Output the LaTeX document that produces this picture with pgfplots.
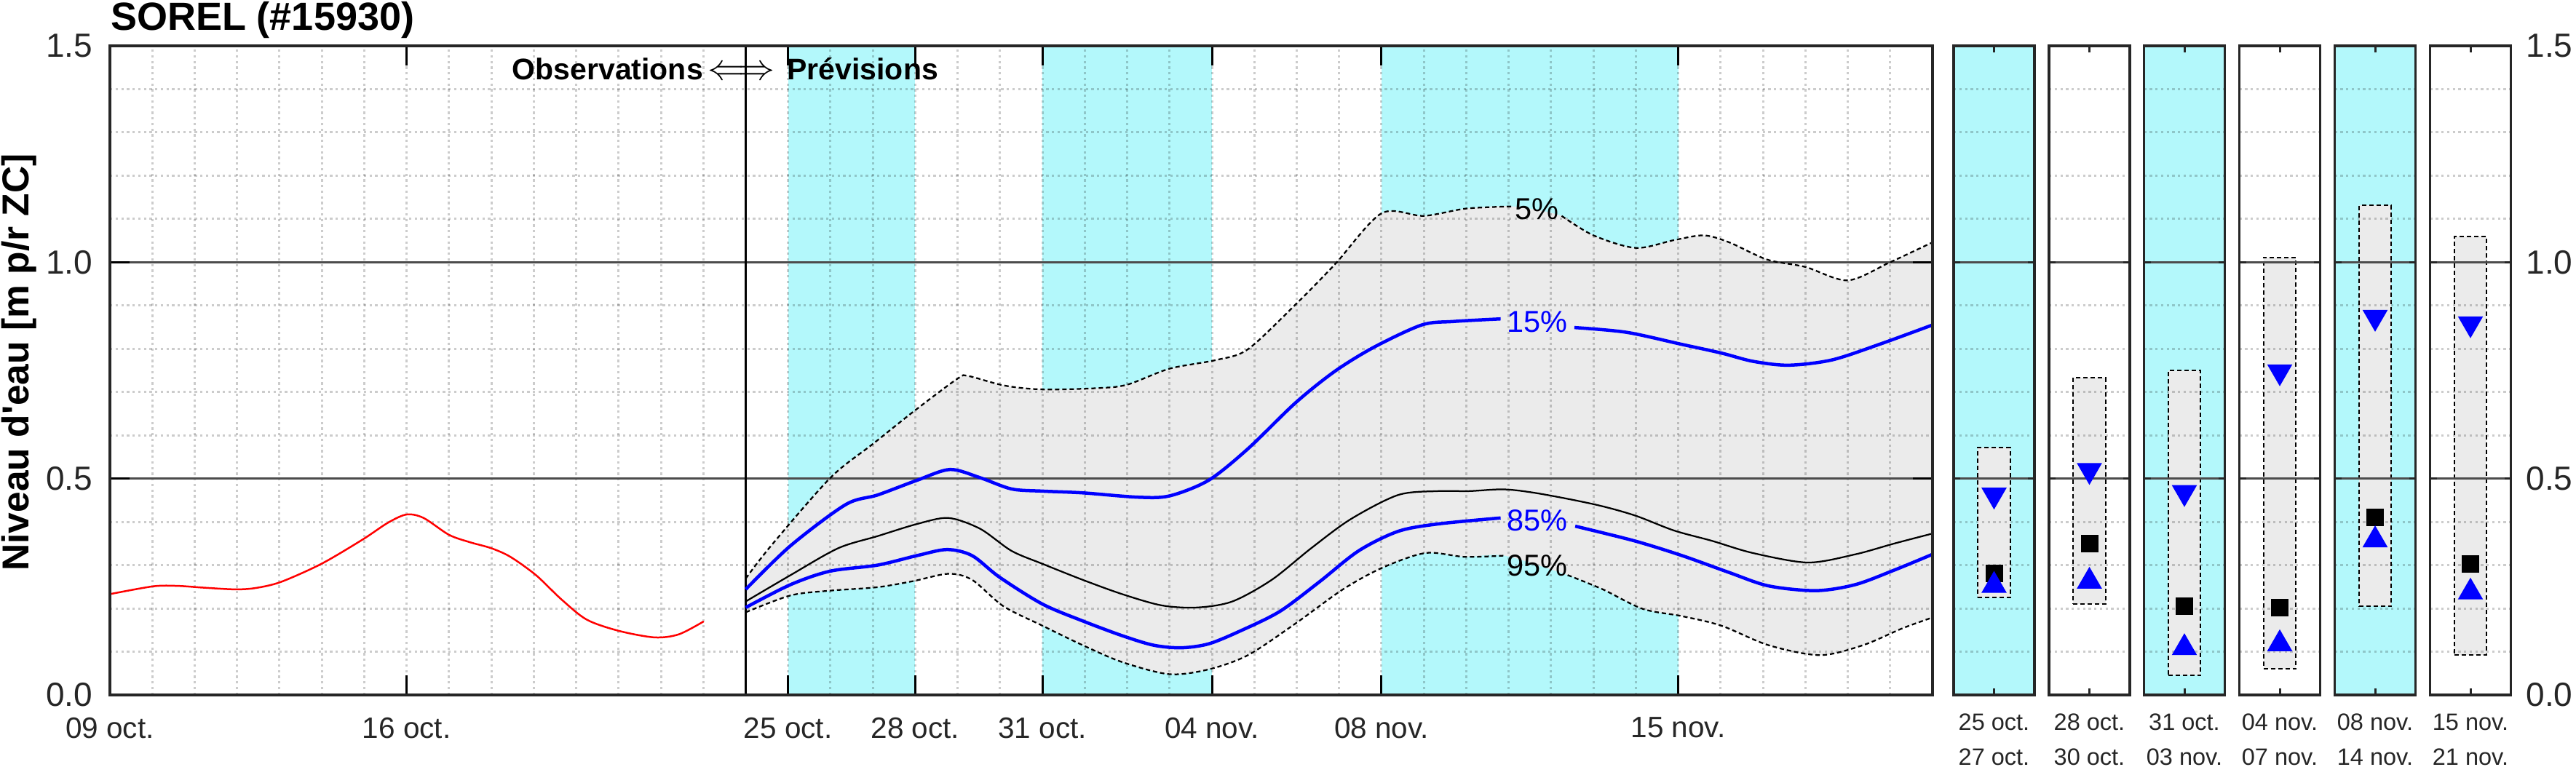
\documentclass[border=0pt]{standalone}
\usepackage{pgfplots}
\pgfplotsset{compat=1.18}
\usepackage{pgfplotstable}
\usepackage{fontspec}
\setmainfont{Liberation Sans}
\definecolor{bandcyan}{RGB}{179,248,251}
\definecolor{fillgray}{RGB}{235,235,235}
\definecolor{axgray}{RGB}{38,38,38}
\tikzset{
  gridminor/.style={draw=black, draw opacity=0.2, line width=0.6pt, dash pattern=on 0.65pt off 0.9pt},
  gridmajor/.style={draw=black!70, line width=0.55pt},
}
\pgfplotstableread{
d v
0 0.233
1.02 0.251
1.6 0.252
2.2 0.248
2.95 0.244
3.43 0.247
4.03 0.261
4.99 0.303
5.96 0.359
6.56 0.398
7.0 0.417
7.4 0.409
8.0 0.370
8.49 0.353
9.0 0.339
9.45 0.319
10.05 0.277
10.65 0.221
11.25 0.174
12.01 0.148
12.85 0.133
13.42 0.140
14.01 0.170
}\obs
\pgfplotstableread{
d v
15 0.269
15.6 0.345
17 0.502
18 0.580
19 0.658
20 0.731
20.25 0.737
21.1 0.715
22 0.706
23.3 0.709
24 0.717
25 0.754
26.1 0.774
26.85 0.799
28 0.905
28.9 0.995
30 1.113
31 1.107
32 1.124
33.1 1.129
34.25 1.107
35 1.062
36 1.033
36.9 1.051
37.6 1.062
38.2 1.046
39.1 1.006
40 0.989
41 0.958
42 1.0
43 1.046
}\pfive
\pgfplotstableread{
d v
15 0.244
16.06 0.345
17.36 0.44
18.11 0.462
19.04 0.496
19.82 0.521
20.53 0.502
21.27 0.476
22 0.471
22.95 0.467
24.25 0.457
25 0.460
25.92 0.496
26.85 0.569
27.97 0.675
28.9 0.748
29.83 0.804
30.95 0.855
31.69 0.863
32.81 0.869
34.55 0.849
35.78 0.838
37.09 0.810
38.02 0.790
38.76 0.771
39.6 0.762
40.62 0.774
41.74 0.810
43 0.855
}\pfifteen
\pgfplotstableread{
d v
15 0.216
16.06 0.277
17.18 0.339
18.11 0.367
19.04 0.395
19.78 0.409
20.53 0.384
21.27 0.333
22 0.303
22.95 0.266
23.88 0.233
24.81 0.207
25.64 0.202
26.48 0.216
27.41 0.266
28.34 0.339
29.27 0.406
30.39 0.462
31.32 0.471
32.06 0.471
32.9 0.475
33.74 0.465
35.04 0.440
35.97 0.415
36.9 0.380
37.8 0.356
38.76 0.328
40.06 0.306
41.18 0.325
42.1 0.350
43 0.373
}\pmed
\pgfplotstableread{
d v
15 0.202
16.06 0.255
16.99 0.286
18.11 0.300
19.04 0.322
19.75 0.336
20.34 0.322
20.99 0.272
22 0.210
22.95 0.171
23.88 0.137
24.62 0.115
25.27 0.109
25.92 0.118
26.67 0.148
27.6 0.193
28.53 0.261
29.46 0.333
30.39 0.378
31.32 0.395
32.81 0.409
34.57 0.390
35.97 0.356
37.09 0.322
38.2 0.283
39.13 0.252
40.25 0.241
41.18 0.255
42.11 0.289
43 0.325
}\peightyfive
\pgfplotstableread{
d v
15 0.191
16.06 0.230
16.99 0.241
18.11 0.249
18.95 0.263
19.78 0.280
20.34 0.266
21.08 0.205
22 0.160
22.95 0.115
23.88 0.076
24.99 0.048
25.92 0.059
26.85 0.092
27.97 0.165
29.09 0.244
30.02 0.294
31.04 0.328
31.97 0.319
32.9 0.322
34.39 0.277
35.22 0.244
36.16 0.199
37.09 0.182
38.02 0.160
39.13 0.115
40.34 0.092
41.36 0.115
42.29 0.154
43 0.179
}\pninetyfive
% 5%-95% envelope: 5% forward, then 95% backward
% (the two points at 43.6 lie outside the axis and are clipped; they only close the shape)
\pgfplotstableread{
d v
15 0.269
15.6 0.345
17 0.502
18 0.580
19 0.658
20 0.731
20.25 0.737
21.1 0.715
22 0.706
23.3 0.709
24 0.717
25 0.754
26.1 0.774
26.85 0.799
28 0.905
28.9 0.995
30 1.113
31 1.107
32 1.124
33.1 1.129
34.25 1.107
35 1.062
36 1.033
36.9 1.051
37.6 1.062
38.2 1.046
39.1 1.006
40 0.989
41 0.958
42 1.0
43 1.046
43.6 1.09
43.6 0.21
43 0.179
42.29 0.154
41.36 0.115
40.34 0.092
39.13 0.115
38.02 0.160
37.09 0.182
36.16 0.199
35.22 0.244
34.39 0.277
32.9 0.322
31.97 0.319
31.04 0.328
30.02 0.294
29.09 0.244
27.97 0.165
26.85 0.092
25.92 0.059
24.99 0.048
23.88 0.076
22.95 0.115
22 0.160
21.08 0.205
20.34 0.266
19.78 0.280
18.95 0.263
18.11 0.249
16.99 0.241
16.06 0.230
15 0.191
}\envelope

\pgfplotsset{
  panelax/.style={
    anchor=south west, scale only axis, width=22.2pt, height=178.4pt,
    xmin=0, xmax=1, ymin=0, ymax=1.5,
    axis on top,
    axis line style={axgray, line width=0.65pt},
    tick align=inside, major tick length=1.8pt,
    tick style={axgray, line width=0.6pt},
    xtick={0.5}, ytick={0.5,1}, yticklabels={},
    xticklabel style={align=center, font=\fontsize{6.5}{9.6}\selectfont, text=axgray, inner sep=0pt, anchor=north, yshift=-5.0pt},
  }
}

\newcommand\panel[8]{%
\begin{axis}[panelax, at={(#1,19.8pt)}, xticklabels={{#3}}, #8]
  \addplot[fill=#2, draw=none] coordinates {(0,1.5) (1,1.5)} \closedcycle;
  \addplot[fill=fillgray, draw=black, line width=0.4pt, dash pattern=on 1.2pt off 0.8pt] coordinates {(0.3,#4) (0.7,#4) (0.7,#5) (0.3,#5)} -- cycle;
  \pgfplotsinvokeforeach{0.1,0.2,0.3,0.4,0.6,0.7,0.8,0.9,1.1,1.2,1.3,1.4}{\draw[gridminor] (axis cs:0,##1) -- (axis cs:1,##1);}
  \draw[gridmajor] (axis cs:0,0.5) -- (axis cs:1,0.5);
  \draw[gridmajor] (axis cs:0,1) -- (axis cs:1,1);
  \addplot[only marks, mark=triangle*, mark size=3.6pt, blue, mark options={rotate=180}] coordinates {(0.5,#6)};
  \addplot[only marks, mark=square*, mark size=2.2pt, black] coordinates {(0.5,#7)};
}
\newcommand\panelup[1]{%
  \addplot[only marks, mark=triangle*, mark size=3.6pt, blue] coordinates {(0.5,#1)};
\end{axis}}

\begin{document}
\begin{tikzpicture}
\useasboundingbox (0,0) rectangle (707.8pt,210.8pt);
\begin{axis}[
  at={(30.2pt,19.8pt)}, anchor=south west,
  scale only axis, width=500.8pt, height=178.4pt,
  xmin=0, xmax=43, ymin=0, ymax=1.5,
  axis on top,
  axis line style={axgray, line width=0.65pt},
  tick align=inside,
  major tick length=5.4pt,
  tick style={black, line width=0.6pt},
  xtick={0,7,16,19,22,26,30,37},
  xticklabels={09 oct.,16 oct.,25 oct.,28 oct.,31 oct.,04 nov.,08 nov.,15 nov.},
  ytick={0,0.5,1,1.5},
  yticklabels={0.0,0.5,1.0,1.5},
  xticklabel style={font=\fontsize{8.1}{9}\selectfont, text=axgray, inner sep=0pt, anchor=north, yshift=-6pt},
  yticklabel style={font=\fontsize{9.2}{11}\selectfont, text=axgray, inner sep=0pt, anchor=east, xshift=-4.6pt},
]
  % cyan bands
  \addplot[fill=bandcyan, draw=none] coordinates {(16,1.5) (19,1.5)} \closedcycle;
  \addplot[fill=bandcyan, draw=none] coordinates {(22,1.5) (26,1.5)} \closedcycle;
  \addplot[fill=bandcyan, draw=none] coordinates {(30,1.5) (37,1.5)} \closedcycle;
  % 5-95 envelope
  \addplot[fill=fillgray, draw=none, smooth] table {\envelope} -- cycle;
  % grid
  \pgfplotsinvokeforeach{1,2,3,4,5,6,7,8,9,10,11,12,13,14,16,17,18,19,20,21,22,23,24,25,26,27,28,29,30,31,32,33,34,35,36,37,38,39,40,41,42}{\draw[gridminor] (axis cs:#1,0) -- (axis cs:#1,1.5);}
  \pgfplotsinvokeforeach{0.1,0.2,0.3,0.4,0.6,0.7,0.8,0.9,1.1,1.2,1.3,1.4}{\draw[gridminor] (axis cs:0,#1) -- (axis cs:43,#1);}
  \draw[gridmajor] (axis cs:0,0.5) -- (axis cs:43,0.5);
  \draw[gridmajor] (axis cs:0,1) -- (axis cs:43,1);
  \draw[black, line width=0.7pt] (axis cs:15,0) -- (axis cs:15,1.5);
  % observations
  \addplot[red, line width=0.5pt, smooth] table {\obs};
  % forecasts
  \addplot[black, line width=0.45pt, dash pattern=on 1.2pt off 0.8pt, smooth, restrict x to domain=14.9:33.15] table {\pfive};
  \addplot[black, line width=0.45pt, dash pattern=on 1.2pt off 0.8pt, smooth, restrict x to domain=34.2:43.1] table {\pfive};
  \addplot[black, line width=0.45pt, dash pattern=on 1.2pt off 0.8pt, smooth, restrict x to domain=14.9:32.95] table {\pninetyfive};
  \addplot[black, line width=0.45pt, dash pattern=on 1.2pt off 0.8pt, smooth, restrict x to domain=34.35:43.1] table {\pninetyfive};
  \addplot[black, line width=0.45pt, smooth] table {\pmed};
  \addplot[blue, line width=0.9pt, smooth, restrict x to domain=14.9:32.85] table {\pfifteen};
  \addplot[blue, line width=0.9pt, smooth, restrict x to domain=34.5:43.1] table {\pfifteen};
  \addplot[blue, line width=0.9pt, smooth, restrict x to domain=14.9:32.85] table {\peightyfive};
  \addplot[blue, line width=0.9pt, smooth, restrict x to domain=34.5:43.1] table {\peightyfive};
  \node[font=\fontsize{8.3}{9}\selectfont, inner sep=0pt] at (axis cs:33.67,1.1235) {5\%};
  \node[font=\fontsize{8.3}{9}\selectfont, inner sep=0pt, text=blue] at (axis cs:33.67,0.862) {15\%};
  \node[font=\fontsize{8.3}{9}\selectfont, inner sep=0pt, text=blue] at (axis cs:33.67,0.4036) {85\%};
  \node[font=\fontsize{8.3}{9}\selectfont, inner sep=0pt] at (axis cs:33.67,0.2985) {95\%};
  \node[inner sep=0pt, anchor=base] (arr) at (axis cs:14.9,1.421) {$\Longleftrightarrow$};
  \node[inner sep=0pt, anchor=base east, xshift=-1pt, font=\bfseries\fontsize{8.2}{9}\selectfont] at (arr.base west) {Observations};
  \node[inner sep=0pt, anchor=base west, xshift=3pt, font=\bfseries\fontsize{8.2}{9}\selectfont] at (arr.base east) {Prévisions};
\end{axis}
\node[anchor=base west, inner sep=0pt, font=\bfseries\fontsize{10.8}{12}\selectfont] at (30.2pt,202.4pt) {SOREL (\#15930)};
\node[rotate=90, anchor=base, inner sep=0pt, font=\bfseries\fontsize{10.3}{12}\selectfont] at (8pt,111.2pt) {Niveau d\textquotesingle eau [m p/r ZC]};

\panel{536.8pt}{bandcyan}{25 oct.\\27 oct.}{0.225}{0.572}{0.462}{0.28}{}
\panelup{0.253}
\panel{563.0pt}{white}{28 oct.\\30 oct.}{0.210}{0.733}{0.519}{0.349}{}
\panelup{0.2625}
\panel{589.1pt}{bandcyan}{31 oct.\\03 nov.}{0.045}{0.750}{0.468}{0.2045}{}
\panelup{0.109}
\panel{615.3pt}{white}{04 nov.\\07 nov.}{0.060}{1.011}{0.747}{0.202}{}
\panelup{0.118}
\panel{641.5pt}{bandcyan}{08 nov.\\14 nov.}{0.2045}{1.131}{0.873}{0.41}{}
\panelup{0.358}
\panel{667.7pt}{white}{15 nov.\\21 nov.}{0.093}{1.059}{0.858}{0.302}{ytick={0,0.5,1,1.5}, yticklabels={0.0,0.5,1.0,1.5}, yticklabel pos=right, yticklabel style={font=\fontsize{9.2}{11}\selectfont, text=axgray, inner sep=0pt, anchor=west, xshift=4pt}}
\panelup{0.2375}
\end{tikzpicture}
\end{document}
